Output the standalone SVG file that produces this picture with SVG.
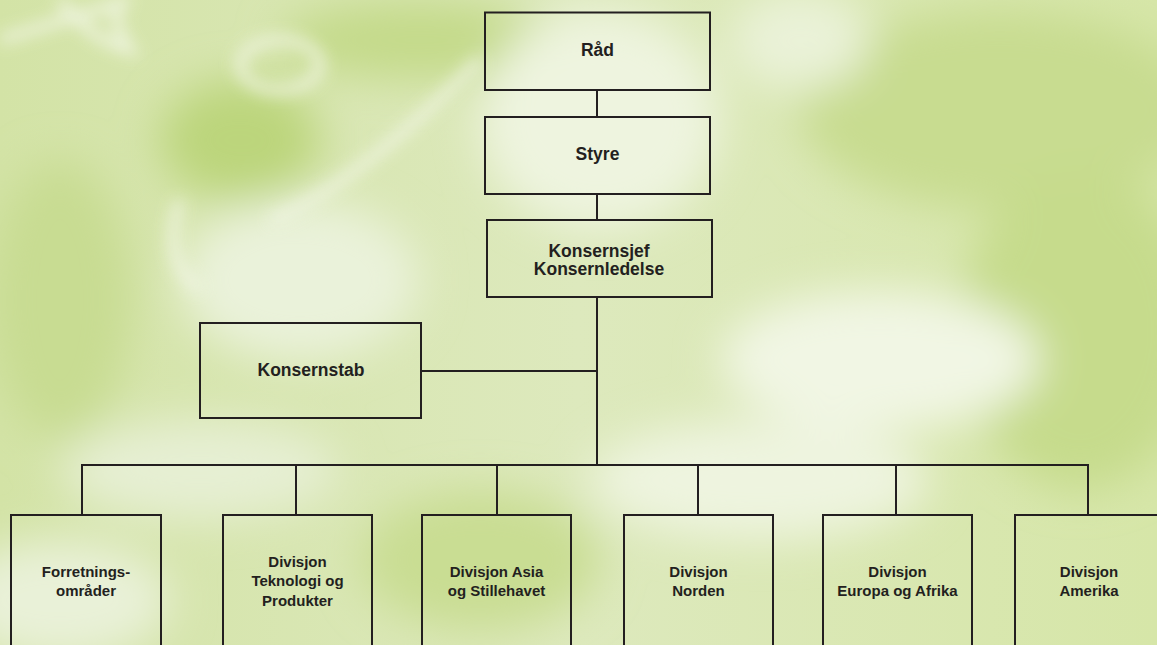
<svg xmlns="http://www.w3.org/2000/svg" width="1157" height="645" viewBox="0 0 1157 645">
<style>
.box{fill:none;stroke:#231f20;stroke-width:2}
.ln{stroke:#231f20;stroke-width:2;fill:none}
.t{font-family:"Liberation Sans",Arial,sans-serif;font-weight:bold;fill:#231f20;text-anchor:middle}
.big{font-size:17.5px}
.sm{font-size:15px}
</style>
<defs>
<filter id="blur" x="-20%" y="-20%" width="140%" height="140%"><feGaussianBlur stdDeviation="22"/></filter>
<filter id="blur2" x="-20%" y="-20%" width="140%" height="140%"><feGaussianBlur stdDeviation="8"/></filter>
<linearGradient id="bg" x1="0" y1="0" x2="1" y2="0">
<stop offset="0" stop-color="#d3e3a6"/>
<stop offset="0.5" stop-color="#dde9bd"/>
<stop offset="1" stop-color="#d6e6a8"/>
</linearGradient>
</defs>
<g id="background">
<rect width="1157" height="645" fill="url(#bg)"/>
<g filter="url(#blur)">
<ellipse cx="240" cy="140" rx="80" ry="60" fill="#bcd57c"/>
<ellipse cx="420" cy="40" rx="140" ry="40" fill="#c4da8a"/>
<ellipse cx="1000" cy="110" rx="200" ry="100" fill="#c8dc90"/>
<ellipse cx="1080" cy="330" rx="120" ry="160" fill="#c6db8c"/>
<ellipse cx="60" cy="300" rx="70" ry="140" fill="#c8dc92"/>
<ellipse cx="480" cy="560" rx="120" ry="70" fill="#c9dd93"/>
<ellipse cx="880" cy="360" rx="160" ry="70" fill="#f1f6e4"/>
<ellipse cx="760" cy="480" rx="170" ry="60" fill="#eef4df"/>
<ellipse cx="600" cy="120" rx="120" ry="110" fill="#eef4df"/>
<ellipse cx="300" cy="280" rx="120" ry="80" fill="#eaf2da"/>
<ellipse cx="60" cy="600" rx="110" ry="60" fill="#e9f1d8"/>
<ellipse cx="200" cy="470" rx="140" ry="50" fill="#e6efd3"/>
<ellipse cx="800" cy="40" rx="70" ry="50" fill="#eaf2d8"/>
</g>
<g filter="url(#blur2)" fill="none" stroke="#f3f7e8" stroke-width="10" opacity="0.8">
<path d="M60 0 Q90 40 130 50 Q110 20 120 0"/>
<ellipse cx="280" cy="65" rx="40" ry="25"/>
<path d="M0 40 L130 0"/>
<path d="M270 220 Q350 190 480 60"/>
<path d="M180 200 Q160 260 200 290"/>
</g>
</g>
<g id="connectors">
<line class="ln" x1="597" y1="90" x2="597" y2="117"/>
<line class="ln" x1="597" y1="194" x2="597" y2="220"/>
<line class="ln" x1="597" y1="297" x2="597" y2="465"/>
<line class="ln" x1="421" y1="371" x2="597" y2="371"/>
<line class="ln" x1="81" y1="465" x2="1089" y2="465"/>
<line class="ln" x1="82" y1="465" x2="82" y2="515"/>
<line class="ln" x1="296" y1="465" x2="296" y2="515"/>
<line class="ln" x1="497" y1="465" x2="497" y2="515"/>
<line class="ln" x1="698" y1="465" x2="698" y2="515"/>
<line class="ln" x1="896" y1="465" x2="896" y2="515"/>
<line class="ln" x1="1088" y1="465" x2="1088" y2="515"/>
</g>
<g id="node-rad">
<rect class="box" x="485" y="12.5" width="225" height="77.5"/>
<text class="t big" x="597.5" y="56">Råd</text>
</g>
<g id="node-styre">
<rect class="box" x="485" y="117" width="225" height="77"/>
<text class="t big" x="597.5" y="160">Styre</text>
</g>
<g id="node-konsernsjef">
<rect class="box" x="487" y="220" width="225" height="77"/>
<text class="t big" x="599" y="257">Konsernsjef</text>
<text class="t big" x="599" y="275">Konsernledelse</text>
</g>
<g id="node-konsernstab">
<rect class="box" x="200" y="323" width="221" height="95"/>
<text class="t big" x="311" y="376">Konsernstab</text>
</g>
<g id="node-forretningsomrader">
<rect class="box" x="11" y="515" width="150" height="140"/>
<text class="t sm" x="86" y="577">Forretnings-</text>
<text class="t sm" x="86" y="596">områder</text>
</g>
<g id="node-teknologi">
<rect class="box" x="223" y="515" width="149" height="140"/>
<text class="t sm" x="297.5" y="567">Divisjon</text>
<text class="t sm" x="297.5" y="586">Teknologi og</text>
<text class="t sm" x="297.5" y="606">Produkter</text>
</g>
<g id="node-asia">
<rect class="box" x="422" y="515" width="149" height="140"/>
<text class="t sm" x="496.5" y="577">Divisjon Asia</text>
<text class="t sm" x="496.5" y="596">og Stillehavet</text>
</g>
<g id="node-norden">
<rect class="box" x="624" y="515" width="149" height="140"/>
<text class="t sm" x="698.5" y="577">Divisjon</text>
<text class="t sm" x="698.5" y="596">Norden</text>
</g>
<g id="node-europa">
<rect class="box" x="823" y="515" width="149" height="140"/>
<text class="t sm" x="897.5" y="577">Divisjon</text>
<text class="t sm" x="897.5" y="596">Europa og Afrika</text>
</g>
<g id="node-amerika">
<rect class="box" x="1015" y="515" width="150" height="140"/>
<text class="t sm" x="1089" y="577">Divisjon</text>
<text class="t sm" x="1089" y="596">Amerika</text>
</g>
</svg>
